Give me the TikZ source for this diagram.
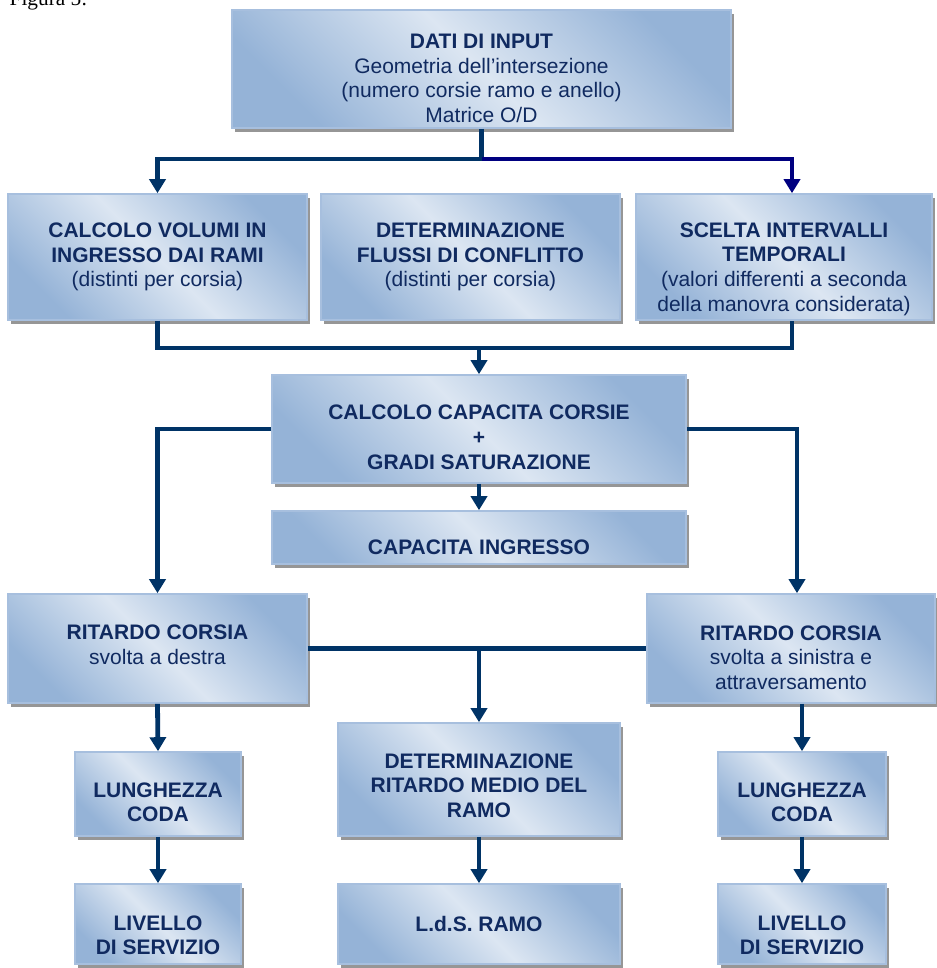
\documentclass[tikz,border=0pt]{standalone}
\usepackage{fontspec}
\setmainfont{Liberation Sans}
\newfontfamily\capfont{Liberation Serif}
\usetikzlibrary{arrows.meta,shadows,calc}
\definecolor{boxlight}{HTML}{DCE6F2}
\definecolor{boxblue}{HTML}{95B3D7}
\definecolor{boxedge}{HTML}{A7BFDE}
\definecolor{textnavy}{HTML}{102A60}
\definecolor{linedark}{HTML}{003366}
\definecolor{linenavy}{HTML}{000080}
% abbassa il testo nel riquadro
\newcommand{\giu}[1]{\rule{0pt}{#1}}

\begin{document}
\begin{tikzpicture}[x=0.75pt,y=-0.75pt,line join=miter,
  box/.style={draw=boxedge,line width=1.2pt,top color=boxblue,bottom color=boxblue,
    middle color=boxlight,shading angle=-45,
    drop shadow={shadow xshift=2.5pt,shadow yshift=-3pt,fill=black!55,opacity=.75},
    text=textnavy,align=center,inner sep=0pt,font=\fontsize{15.75}{18.6}\selectfont},
  size/.style 2 args={minimum width=#1*0.75pt,minimum height=#2*0.75pt},
  conn/.style={draw=linedark,line width=3.6pt},
  tip/.style={-{Triangle[width=12pt,length=10.5pt]}}]
\useasboundingbox (0,0) rectangle (936,968);
\node[font=\capfont\fontsize{16}{19}\selectfont,anchor=base east] (fig) at (92,5) {Figura 5:};

\node[box,size={499}{118}] (input) at (481.5,69) {\giu{24.8pt}\textbf{DATI DI INPUT}\\Geometria dell’intersezione\\(numero corsie ramo e anello)\\Matrice O/D};
\node[box,size={299}{126}] (volumi) at (157.5,257) {\textbf{CALCOLO VOLUMI IN}\\\textbf{INGRESSO DAI RAMI}\\(distinti per corsia)};
\node[box,size={299}{126}] (flussi) at (470.5,257) {\textbf{DETERMINAZIONE}\\\textbf{FLUSSI DI CONFLITTO}\\(distinti per corsia)};
\node[box,size={296}{126}] (scelta) at (784,257) {\giu{29.3pt}\textbf{SCELTA INTERVALLI}\\\textbf{TEMPORALI}\\(valori differenti a seconda\\della manovra considerata)};
\node[box,size={414}{108}] (capacita) at (479,429) {\giu{23.3pt}\textbf{CALCOLO CAPACITA CORSIE}\\\textbf{+}\\\textbf{GRADI SATURAZIONE}};
\node[box,size={414}{53}] (ingresso) at (479,537.5) {\giu{26.3pt}\textbf{CAPACITA INGRESSO}};
\node[box,size={299}{109}] (ritsx) at (157.5,648.5) {\textbf{RITARDO CORSIA}\\svolta a destra\rule[-6pt]{0pt}{6pt}};
\node[box,size={288}{109}] (ritdx) at (791,648.5) {\giu{24.8pt}\textbf{RITARDO CORSIA}\\svolta a sinistra e\\attraversamento};
\node[box,size={282}{113}] (medio) at (479,779.5) {\giu{20.3pt}\textbf{DETERMINAZIONE}\\\textbf{RITARDO MEDIO DEL}\\\textbf{RAMO}};
\node[box,size={282}{80}] (lds) at (479,924) {\textbf{L.d.S. RAMO}};
\node[box,size={166}{84}] (codasx) at (158,794) {\giu{23.3pt}\textbf{LUNGHEZZA}\\\textbf{CODA}};
\node[box,size={168}{84}] (codadx) at (802,794) {\giu{23.3pt}\textbf{LUNGHEZZA}\\\textbf{CODA}};
\node[box,size={166}{80}] (livsx) at (158,924) {\giu{27.8pt}\textbf{LIVELLO}\\\textbf{DI SERVIZIO}};
\node[box,size={168}{80}] (livdx) at (802,924) {\giu{27.8pt}\textbf{LIVELLO}\\\textbf{DI SERVIZIO}};

% collegamenti
\coordinate (busin) at (input.south |- 0,159);
\coordinate (busmid) at (capacita.north |- 0,348);
\draw[conn,tip] (input.south) -- (busin) -| (volumi.north);
\draw[conn,draw=linenavy,tip] (busin) -| ($(scelta.north)+(8,0)$);
\draw[conn] (volumi.south) |- (busmid) -| ($(scelta.south)+(8,0)$);
\draw[conn,tip] (busmid) -- (capacita.north);
\draw[conn,tip] (capacita.west) -| (ritsx.north);
\draw[conn,tip] (capacita.east) -| ($(ritdx.north)+(6,0)$);
\draw[conn,tip] (capacita.south) -- (ingresso.north);
\draw[conn] (ritsx.east) -- (ritdx.west);
\draw[conn,tip] (medio.north |- ritsx.east) -- (medio.north);
\draw[conn,tip] (medio.south) -- (lds.north);
\draw[conn,tip] (ritsx.south) -- (codasx.north);
\draw[conn,tip] (codasx.south) -- (livsx.north);
\draw[conn,tip] (codadx.north |- ritdx.south) -- (codadx.north);
\draw[conn,tip] (codadx.south) -- (livdx.north);
\end{tikzpicture}
\end{document}
